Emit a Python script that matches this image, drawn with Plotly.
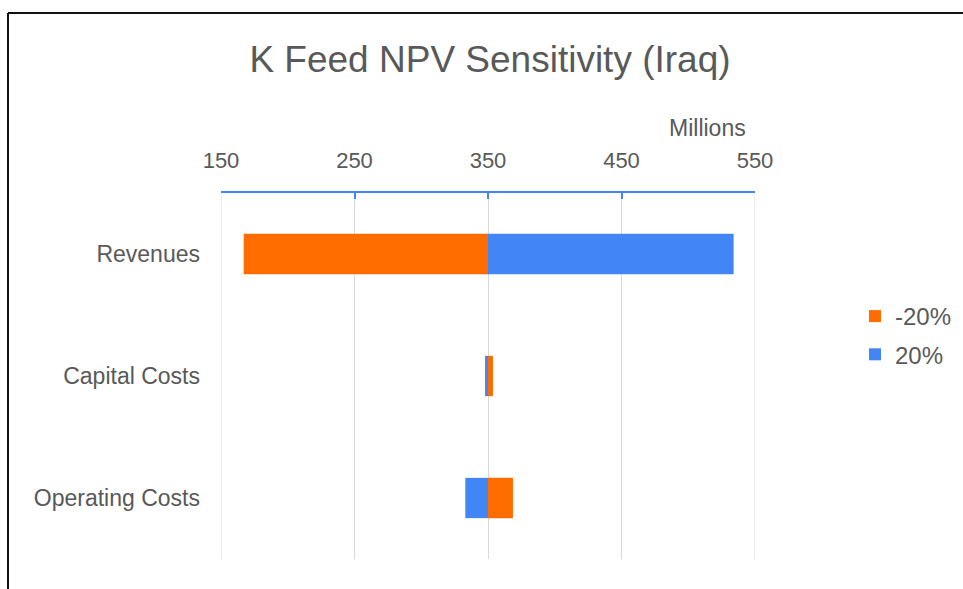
import plotly.graph_objects as go

categories = ["Revenues", "Capital Costs", "Operating Costs"]
base_npv = 350
npv_minus20 = [167, 353.7, 368.7]
npv_plus20 = [534, 347.8, 333]
series_names = ["-20%", "20%"]
tick_vals = [150, 250, 350, 450, 550]

orange = "#FF6D01"
blue = "#4285F4"
text_col = "#595959"
grid_col = "#d9d9d9"

W, H = 963, 589
L, R, T, B = 221, 963 - 755, 193, 589 - 559
pw = W - L - R
ph = H - T - B

fig = go.Figure()
fig.add_trace(go.Bar(
    y=categories, x=[v - base_npv for v in npv_minus20], base=base_npv,
    orientation="h", name=series_names[0], marker=dict(color=orange, line=dict(width=0)),
    width=0.33, legendgroup="a"))
fig.add_trace(go.Bar(
    y=categories, x=[v - base_npv for v in npv_plus20], base=base_npv,
    orientation="h", name=series_names[1], marker=dict(color=blue, line=dict(width=0)),
    width=0.33, legendgroup="b"))

# edge gridlines (plotly omits them at the range ends)
edge_shapes = [dict(type="line", xref="x", yref="paper", x0=v, x1=v, y0=0, y1=1,
                    layer="below", line=dict(color=grid_col, width=1))
               for v in (tick_vals[0], tick_vals[-1])]

fig.update_layout(
    width=W, height=H,
    margin=dict(l=L, r=R, t=T, b=B, autoexpand=False),
    paper_bgcolor="white", plot_bgcolor="white",
    barmode="overlay",
    font=dict(family="Liberation Sans, Arial, sans-serif", color=text_col, size=22),
    title=dict(text="K Feed NPV Sensitivity (Iraq)", x=490 / W, xanchor="center",
               y=1 - 59 / H, yanchor="middle", font=dict(size=37, color=text_col)),
    xaxis=dict(side="top", range=[150, 550], tickvals=tick_vals, showgrid=True,
               gridcolor=grid_col, gridwidth=1, zeroline=False,
               showline=True, linecolor=blue, linewidth=2,
               ticks="inside", ticklen=6, tickcolor=blue, tickwidth=2,
               ticklabelstandoff=14, tickfont=dict(size=22, color=text_col), fixedrange=True),
    yaxis=dict(autorange="reversed", showgrid=False, zeroline=False, showline=False,
               ticklabelstandoff=20, tickfont=dict(size=23, color=text_col)),
    legend=dict(x=(855 - L) / pw, y=(H - B - 294) / ph, xanchor="left", yanchor="top",
                font=dict(size=24, color=text_col), tracegroupgap=4,
                traceorder="grouped", bgcolor="rgba(0,0,0,0)"),
    showlegend=True,
    annotations=[dict(text="Millions", xref="paper", yref="paper",
                      x=(707 - L) / pw, y=(H - B - 128) / ph, showarrow=False,
                      xanchor="center", yanchor="middle",
                      font=dict(size=23, color=text_col))],
    shapes=edge_shapes + [
        dict(type="line", xref="paper", yref="paper",
             x0=(8 - L) / pw, x1=(975 - L) / pw,
             y0=(H - B - 13) / ph, y1=(H - B - 13) / ph,
             line=dict(color="#111", width=2)),
        dict(type="line", xref="paper", yref="paper",
             x0=(8 - L) / pw, x1=(8 - L) / pw,
             y0=(H - B - 13) / ph, y1=(H - B - 600) / ph,
             line=dict(color="#111", width=2)),
    ],
)

fig.write_html("out.html", config={"displayModeBar": False},
               post_script="document.body.style.margin='0';document.body.style.overflow='hidden';")
